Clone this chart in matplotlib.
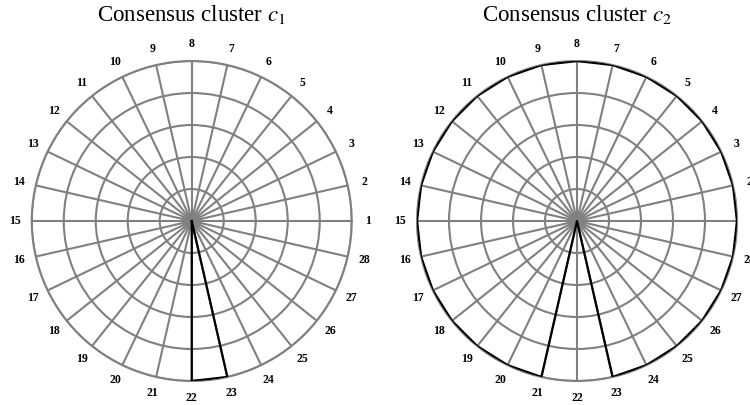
import numpy as np
import matplotlib
matplotlib.use('Agg')
from matplotlib import pyplot as plt

plt.rcParams['font.family'] = ['Liberation Serif', 'DejaVu Serif']
plt.rcParams['mathtext.fontset'] = 'stix'

labels = [str(i) for i in range(1, 29)]
titles = ['Consensus cluster $c_1$', 'Consensus cluster $c_2$']
# membership of each of the 28 items in the cluster
c1 = [0, 0, 0, 0, 0, 0, 0, 0, 0, 0, 0, 0, 0, 0,
      0, 0, 0, 0, 0, 0, 0, 1, 1, 0, 0, 0, 0, 0]
c2 = [1, 1, 1, 1, 1, 1, 1, 1, 1, 1, 1, 1, 1, 1,
      1, 1, 1, 1, 1, 1, 1, 0, 1, 1, 1, 1, 1, 1]
series = [c1, c2]

n = len(labels)
angles = np.arange(n) * 2 * np.pi / n

fig = plt.figure(figsize=(7.5, 4.05), dpi=100)
lefts = [0.0423, 0.556]

for left, vals, title in zip(lefts, series, titles):
	ax = fig.add_axes([left, 0.0593, 0.4267, 0.790], projection='polar')
	ax.set_ylim(0, 1)
	ax.set_yticks([0.2, 0.4, 0.6, 0.8, 1.0])
	ax.set_yticklabels([])
	ax.set_xticks(angles)
	ax.set_xticklabels([])
	ax.grid(True, color='#808080', lw=1.5)
	ax.spines['polar'].set_color('#808080')
	ax.spines['polar'].set_linewidth(1.5)
	ax.tick_params(length=0)

	a = np.append(angles, angles[0])
	v = np.append(vals, vals[0])
	ax.plot(a, v, color='black', lw=1.6, zorder=5)

	for ang, lab in zip(angles, labels):
		ax.text(ang, 1.105, lab, ha='center', va='center', fontsize=8.5,
			fontweight='bold', clip_on=False)

	ax.set_title(title, fontsize=16.5, pad=29)

fig.savefig('out.png')
